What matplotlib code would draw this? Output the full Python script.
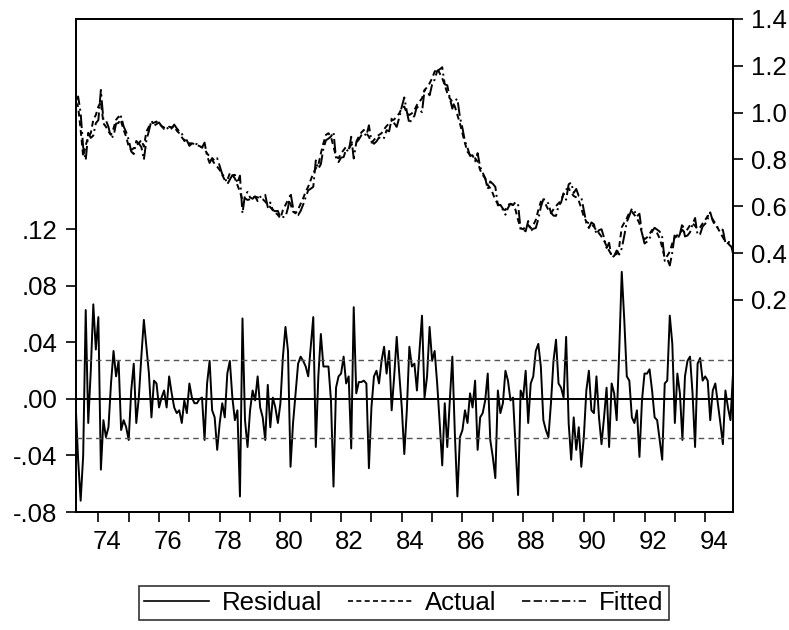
import matplotlib
matplotlib.use("Agg")
import matplotlib.pyplot as plt
from matplotlib.lines import Line2D
import numpy as np

# monthly observations, first one is 1973M04
start_year = 1973.25

residual = [
    -0.003, -0.043, -0.072, -0.040, 0.063, -0.017, 0.020, 0.067, 0.035, 0.058, -0.050, -0.015,
    -0.027, -0.020, 0.011, 0.034, 0.016, 0.027, -0.022, -0.015, -0.020, -0.029, 0.006, 0.025,
    -0.017, 0.001, 0.030, 0.056, 0.037, 0.018, -0.013, 0.013, 0.011, -0.006, 0.001, 0.006,
    -0.006, 0.016, 0.004, -0.006, -0.010, -0.008, -0.017, -0.001, -0.010, 0.011, 0.001, -0.003,
    -0.003, 0.000, 0.001, -0.029, 0.011, 0.027, -0.008, -0.013, -0.036, -0.017, -0.003, -0.013,
    0.018, 0.027, 0.001, -0.015, -0.008, -0.069, 0.057, -0.015, -0.034, -0.008, 0.006, -0.001,
    0.016, -0.006, -0.013, -0.029, 0.010, -0.020, 0.001, -0.006, -0.017, -0.003, 0.030, 0.051,
    0.034, -0.048, -0.017, 0.004, 0.025, 0.030, 0.027, 0.023, 0.016, 0.037, 0.058, -0.034,
    0.016, 0.046, 0.023, 0.023, 0.023, -0.001, -0.062, 0.008, 0.016, 0.018, 0.030, 0.011,
    0.016, -0.035, 0.065, 0.004, 0.012, 0.012, 0.013, 0.011, -0.049, -0.006, 0.016, 0.020,
    0.011, 0.027, 0.037, 0.018, 0.034, -0.008, 0.016, 0.044, 0.018, -0.006, -0.039, -0.008,
    0.037, 0.023, 0.025, 0.006, 0.034, 0.059, 0.001, 0.016, 0.051, 0.027, 0.034, 0.011,
    -0.017, -0.047, -0.003, -0.034, -0.001, 0.030, -0.025, -0.069, -0.027, -0.022, -0.008, -0.017,
    0.004, -0.006, 0.013, -0.036, -0.013, -0.010, -0.001, 0.018, -0.029, -0.041, -0.056, 0.006,
    -0.010, -0.003, 0.020, 0.013, -0.001, 0.001, -0.034, -0.068, 0.006, 0.001, 0.020, -0.017,
    0.011, 0.016, 0.034, 0.039, 0.023, -0.015, -0.022, -0.027, -0.003, 0.027, 0.042, 0.011,
    0.008, 0.001, 0.044, -0.017, -0.043, -0.013, -0.036, -0.020, -0.048, -0.027, 0.006, 0.020,
    -0.008, -0.010, 0.016, -0.013, -0.032, -0.013, 0.008, -0.034, 0.011, 0.004, -0.015, 0.034,
    0.090, 0.056, 0.016, 0.013, -0.013, -0.017, -0.008, -0.041, -0.001, 0.018, 0.018, 0.021,
    0.006, -0.013, -0.015, -0.029, -0.043, 0.011, 0.013, 0.059, 0.039, -0.017, 0.018, 0.004,
    -0.029, 0.016, 0.027, 0.030, 0.004, -0.034, 0.025, 0.029, 0.013, 0.016, 0.013, -0.015,
    0.006, 0.011, -0.003, -0.017, -0.032, 0.006, -0.006, -0.015, 0.018,
]

actual = [
    1.047, 1.026, 0.926, 0.812, 0.860, 0.897, 0.912, 0.969, 0.990, 1.026, 1.047, 0.954,
    0.940, 0.919, 0.905, 0.933, 0.969, 0.983, 0.962, 0.926, 0.897, 0.855, 0.840, 0.848,
    0.862, 0.869, 0.883, 0.855, 0.919, 0.940, 0.954, 0.957, 0.962, 0.952, 0.943, 0.936,
    0.933, 0.940, 0.937, 0.943, 0.923, 0.912, 0.895, 0.880, 0.872, 0.869, 0.869, 0.866,
    0.862, 0.857, 0.852, 0.843, 0.826, 0.812, 0.798, 0.781, 0.769, 0.755, 0.734, 0.712,
    0.712, 0.741, 0.734, 0.719, 0.691, 0.662, 0.627, 0.634, 0.627, 0.630, 0.638, 0.641,
    0.638, 0.634, 0.630, 0.620, 0.606, 0.596, 0.584, 0.573, 0.563, 0.549, 0.584, 0.606,
    0.627, 0.610, 0.577, 0.570, 0.587, 0.610, 0.634, 0.662, 0.684, 0.712, 0.741, 0.762,
    0.776, 0.826, 0.869, 0.905, 0.912, 0.897, 0.855, 0.812, 0.805, 0.826, 0.840, 0.855,
    0.848, 0.862, 0.869, 0.876, 0.897, 0.915, 0.926, 0.912, 0.897, 0.872, 0.883, 0.897,
    0.905, 0.912, 0.929, 0.943, 0.954, 0.966, 0.971, 0.983, 0.997, 1.019, 1.026, 0.997,
    0.990, 0.997, 1.011, 1.033, 1.047, 1.061, 1.097, 1.108, 1.125, 1.147, 1.175, 1.189,
    1.168, 1.147, 1.118, 1.083, 1.061, 1.047, 1.026, 0.990, 0.954, 0.912, 0.869, 0.833,
    0.819, 0.812, 0.805, 0.791, 0.755, 0.734, 0.719, 0.691, 0.677, 0.655, 0.627, 0.610,
    0.596, 0.587, 0.584, 0.606, 0.610, 0.606, 0.584, 0.541, 0.506, 0.502, 0.513, 0.520,
    0.506, 0.520, 0.541, 0.584, 0.620, 0.615, 0.606, 0.584, 0.570, 0.587, 0.601, 0.613,
    0.624, 0.655, 0.672, 0.677, 0.658, 0.644, 0.638, 0.624, 0.591, 0.556, 0.534, 0.527,
    0.523, 0.513, 0.496, 0.485, 0.470, 0.453, 0.430, 0.410, 0.392, 0.392, 0.396, 0.428,
    0.510, 0.530, 0.549, 0.573, 0.577, 0.563, 0.549, 0.527, 0.485, 0.459, 0.467, 0.482,
    0.499, 0.495, 0.485, 0.463, 0.425, 0.378, 0.388, 0.406, 0.442, 0.467, 0.477, 0.485,
    0.499, 0.487, 0.502, 0.519, 0.527, 0.516, 0.502, 0.510, 0.527, 0.541, 0.559, 0.559,
    0.544, 0.527, 0.506, 0.487, 0.467, 0.449, 0.442, 0.430, 0.416,
]

resid_band = 0.0273   # +/- one standard error lines
year_ticks = list(range(1974, 1995))
label_years = list(range(1974, 1995, 2))
left_ticks = [-0.08, -0.04, 0.00, 0.04, 0.08, 0.12]
left_labels = ["-.08", "-.04", ".00", ".04", ".08", ".12"]
right_ticks = [0.2, 0.4, 0.6, 0.8, 1.0, 1.2, 1.4]

x = start_year + np.arange(len(residual)) / 12.0
resid = np.array(residual)
act = np.array(actual)
fitted = act - resid   # fitted = actual - residual

plt.rcParams["font.family"] = ["Liberation Sans", "DejaVu Sans"]
fs = 18.5

fig = plt.figure(figsize=(7.89, 6.30), dpi=100)
ax = fig.add_axes([75.6 / 789, 1 - 512 / 630, (733 - 75.6) / 789, (512 - 19) / 630])
ax2 = ax.twinx()

# residual panel
ax.plot(x, resid, color="black", lw=1.4)
ax.axhline(0, color="black", lw=1.4)
ax.axhline(resid_band, color="#555555", lw=1.0, ls=(0, (4, 3)))
ax.axhline(-resid_band, color="#555555", lw=1.0, ls=(0, (4, 3)))
ax.set_ylim(-0.08, 0.269)
ax.set_xlim(x[0], x[-1])
ax.set_yticks(left_ticks)
ax.set_yticklabels(left_labels)

# actual / fitted on right scale
ax2.plot(x, act, color="black", lw=1.4, ls=(0, (3, 2)))
ax2.plot(x, fitted, color="black", lw=1.4, ls=(0, (7, 2, 1, 2)))
ax2.set_ylim(-0.706, 1.4)
ax2.set_yticks(right_ticks)
ax2.set_yticklabels([f"{v:.1f}" for v in right_ticks])

# tick marks at every year, labels every other year, set a bit right of the mark
ax.set_xticks(year_ticks, minor=True)
ax.set_xticks([y + 0.28 for y in label_years])
ax.set_xticklabels([str(y)[2:] for y in label_years])
ax.tick_params(axis="x", which="major", length=0, pad=13, labelsize=fs)
ax.tick_params(axis="x", which="minor", direction="out", length=7, width=1.2)

for a in (ax, ax2):
    for s in a.spines.values():
        s.set_linewidth(1.3)
        s.set_color("black")
ax.tick_params(axis="y", direction="out", length=7, width=1.2, labelsize=fs, pad=6)
ax2.tick_params(axis="y", direction="out", length=7, width=1.2, labelsize=fs, pad=6)

handles = [
    Line2D([], [], color="black", lw=1.2),
    Line2D([], [], color="black", lw=1.2, ls=(0, (3, 2))),
    Line2D([], [], color="black", lw=1.2, ls=(0, (5, 2, 5, 2, 1, 2))),
]
leg = fig.legend(handles, ["Residual", "Actual", "Fitted"], loc="upper center",
                 bbox_to_anchor=(404 / 789, 1 - 586 / 630), ncol=3, fontsize=fs,
                 frameon=True, fancybox=False, handlelength=2.5, handletextpad=0.5,
                 columnspacing=1.0, borderpad=0.2, borderaxespad=0)
leg.get_frame().set_edgecolor("black")
leg.get_frame().set_linewidth(1.2)

fig.savefig("out.png", dpi=100)
